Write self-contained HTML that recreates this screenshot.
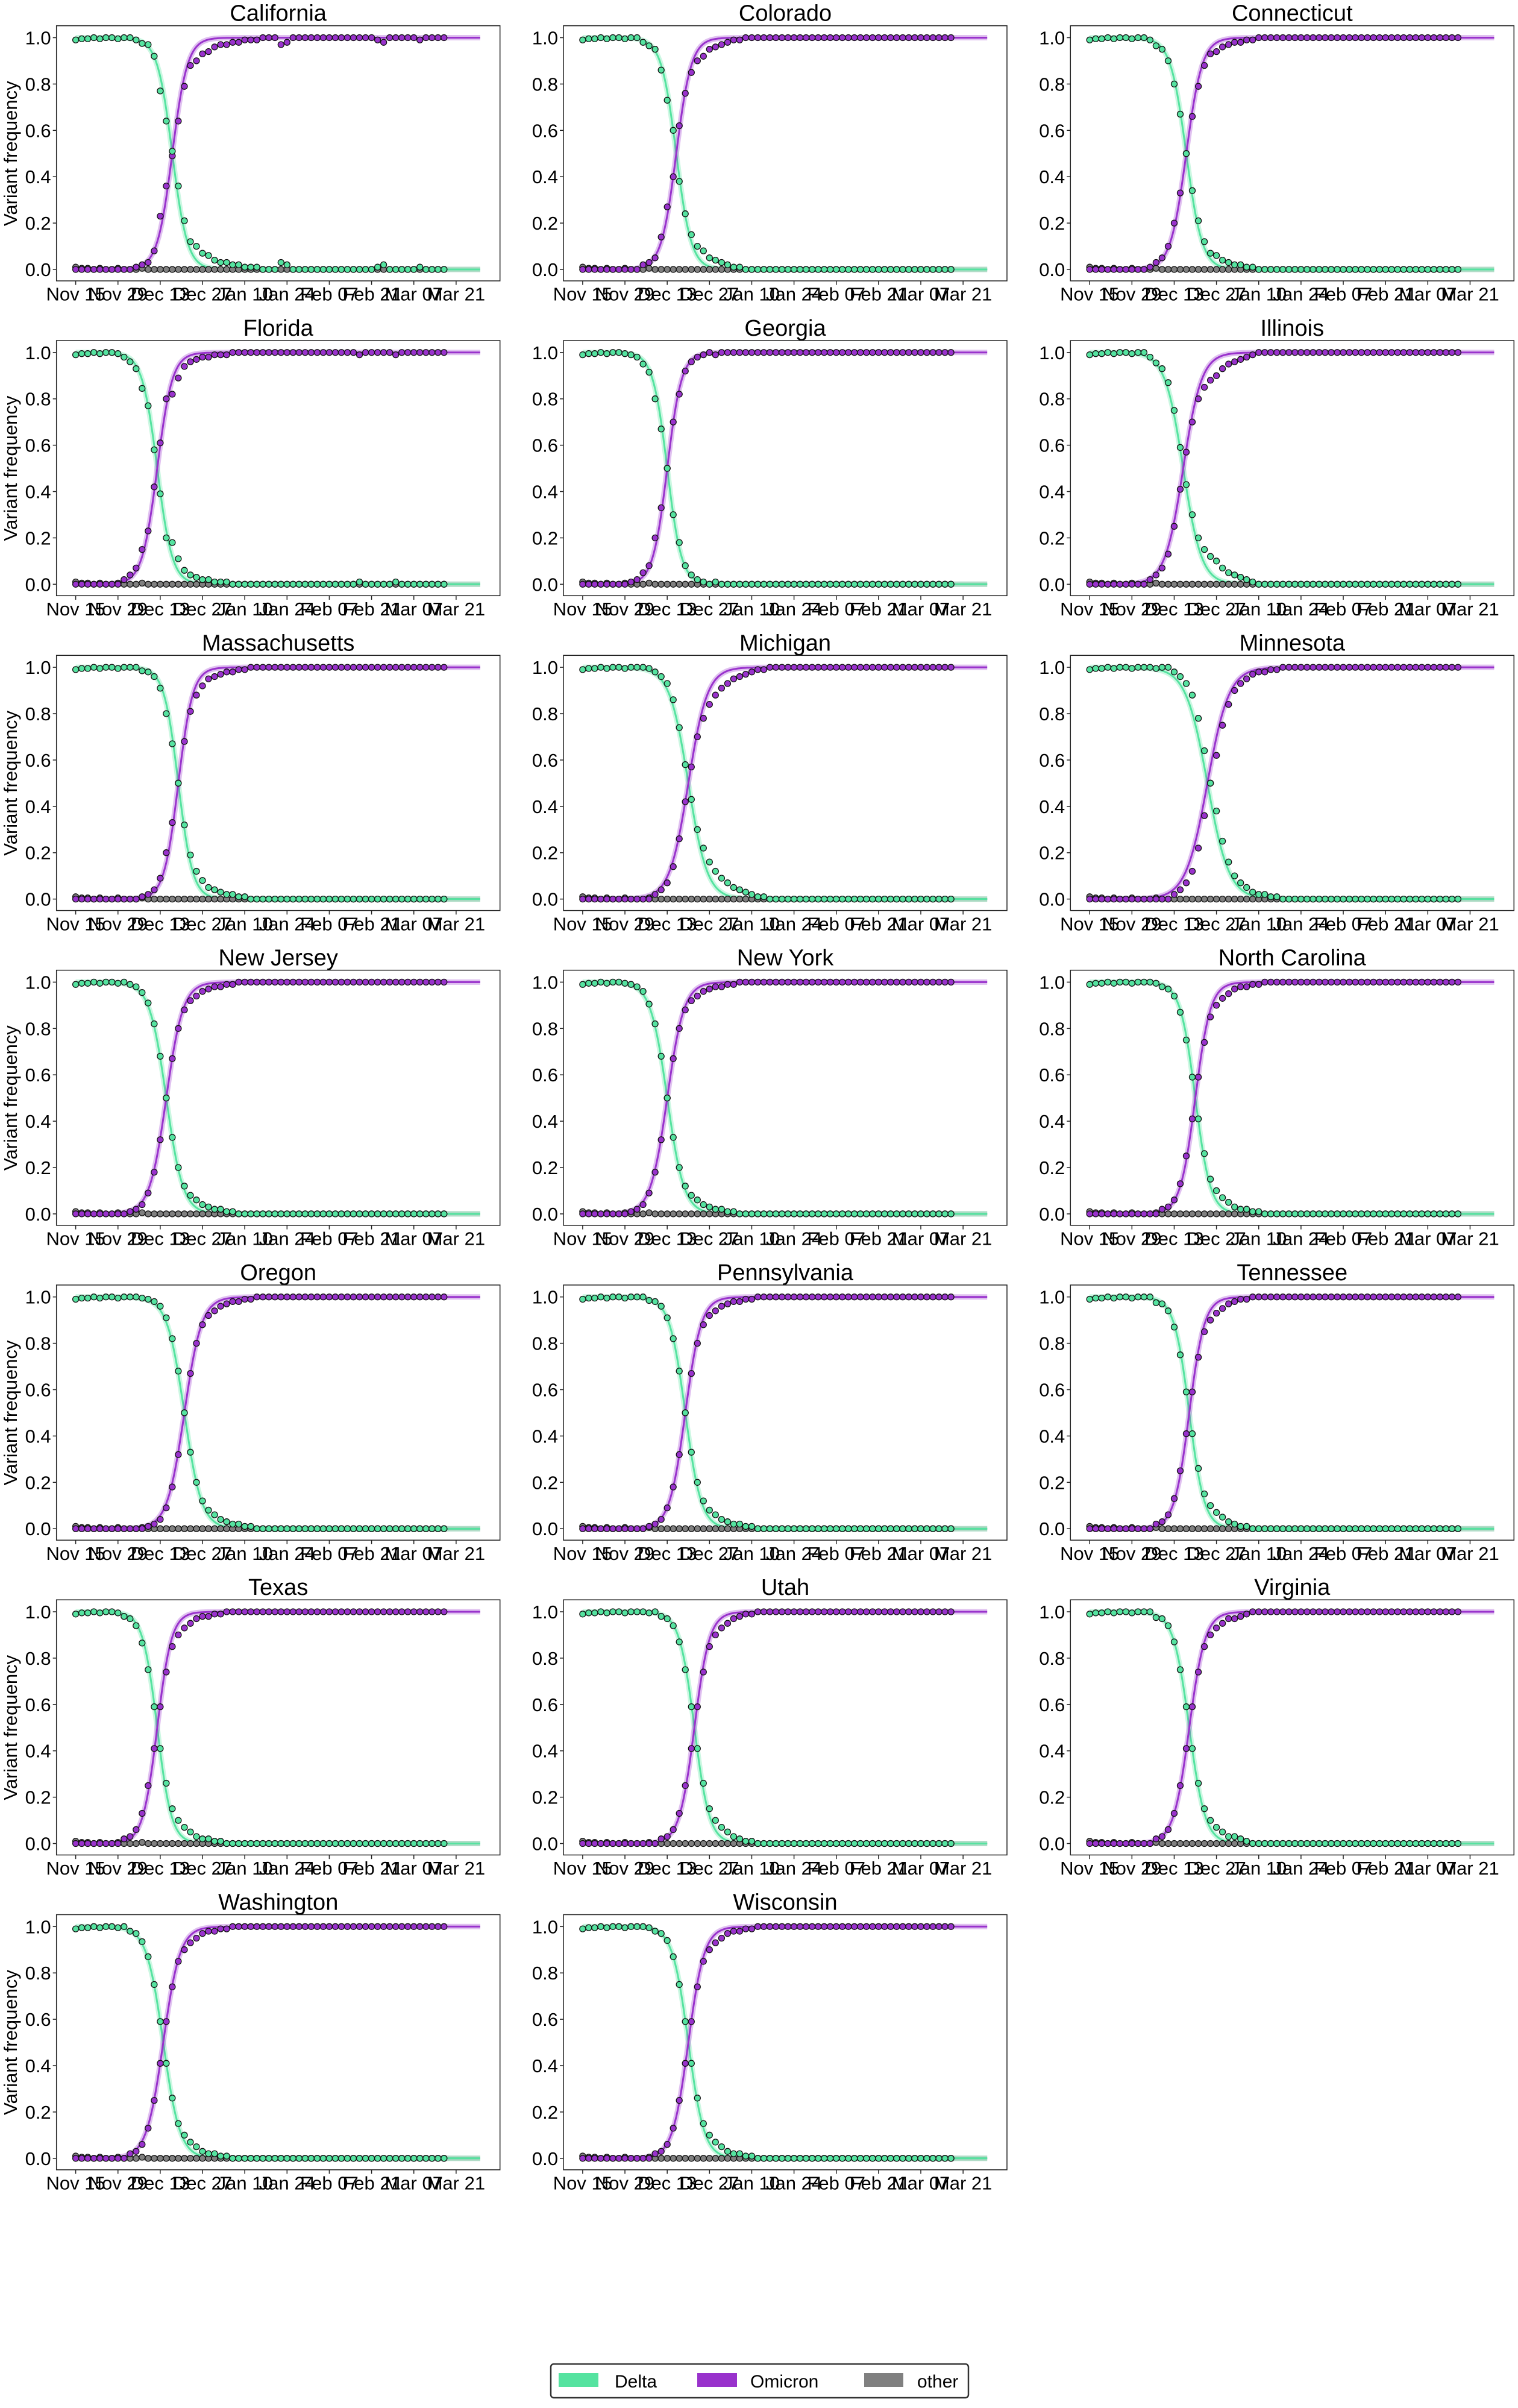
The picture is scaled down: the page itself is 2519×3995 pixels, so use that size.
<!DOCTYPE html>
<html><head><meta charset="utf-8">
<style>
html,body{margin:0;padding:0;background:#fff;}
svg{display:block;font-family:"Liberation Sans",sans-serif;}
</style></head>
<body>
<svg id="chart" width="2519" height="3995" viewBox="0 0 2519 3995" xmlns="http://www.w3.org/2000/svg">
<g id="panels"></g>
<g>
<rect x="914" y="3922" width="693" height="56" rx="5" fill="#fff" stroke="#333" stroke-width="2.5"/>
<g><rect x="927" y="3937" width="66" height="23" fill="#55e3a0"/><text x="1020" y="3961" font-size="30">Delta</text></g>
<g><rect x="1157" y="3937" width="66" height="23" fill="#9932cc"/><text x="1245" y="3961" font-size="30">Omicron</text></g>
<g><rect x="1434" y="3937" width="65" height="23" fill="#808080"/><text x="1522" y="3961" font-size="30">other</text></g>
</g>
</svg>
<script>
const states = ["California","Colorado","Connecticut","Florida","Georgia","Illinois","Massachusetts","Michigan","Minnesota","New Jersey","New York","North Carolina","Oregon","Pennsylvania","Tennessee","Texas","Utah","Virginia","Washington","Wisconsin"];
const tickLabels = ["Nov 15","Nov 29","Dec 13","Dec 27","Jan 10","Jan 24","Feb 07","Feb 21","Mar 07","Mar 21"];
const tickDays = [0,14,28,42,56,70,84,98,112,126];
const yTicks = [0,0.2,0.4,0.6,0.8,1.0];
const midDay = [32,31,32,27,28,31,34,35,39,30,28,35,36,34,33,27,37,33,29,35];
const rate = [0.4,0.4,0.38,0.4,0.42,0.33,0.42,0.32,0.28,0.36,0.36,0.4,0.35,0.38,0.4,0.42,0.4,0.38,0.36,0.38];
// omicron observed frequency, every 2 days from Nov 15
const omicronCA = [0,0,0,0,0,0,0,0,0,0,0.01,0.02,0.03,0.08,0.23,0.36,0.49,0.64,0.79,0.88,0.9,0.93,0.94,0.96,0.97,0.97,0.98,0.98,0.99,0.99,0.99,1,1,1,0.97,0.98,1,1,1,1,1,1,1,1,1,1,1,1,1,1,0.99,0.98,1,1,1,1,1,0.99,1,1,1,1];
const omicronCO = [0,0,0,0,0,0,0,0,0,0,0.02,0.03,0.05,0.14,0.27,0.4,0.62,0.76,0.85,0.9,0.92,0.95,0.96,0.97,0.98,0.99,0.99,1,1,1,1,1,1,1,1,1,1,1,1,1,1,1,1,1,1,1,1,1,1,1,1,1,1,1,1,1,1,1,1,1,1,1];
const omicronCT = [0,0,0,0,0,0,0,0,0,0,0.01,0.03,0.05,0.1,0.2,0.33,0.5,0.66,0.79,0.88,0.93,0.94,0.96,0.97,0.98,0.98,0.99,0.99,1,1,1,1,1,1,1,1,1,1,1,1,1,1,1,1,1,1,1,1,1,1,1,1,1,1,1,1,1,1,1,1,1,1];
const omicronFL = [0,0,0,0,0,0,0,0,0.02,0.04,0.07,0.15,0.23,0.42,0.61,0.8,0.82,0.89,0.94,0.96,0.97,0.98,0.98,0.99,0.99,0.99,1,1,1,1,1,1,1,1,1,1,1,1,1,1,1,1,1,1,1,1,1,0.99,1,1,1,1,1,0.99,1,1,1,1,1,1,1,1];
const omicronGA = [0,0,0,0,0,0,0,0,0.01,0.02,0.05,0.08,0.2,0.33,0.5,0.7,0.82,0.92,0.96,0.98,0.99,1,0.99,1,1,1,1,1,1,1,1,1,1,1,1,1,1,1,1,1,1,1,1,1,1,1,1,1,1,1,1,1,1,1,1,1,1,1,1,1,1,1];
const omicronIL = [0,0,0,0,0,0,0,0,0,0,0.02,0.04,0.07,0.13,0.25,0.41,0.57,0.7,0.8,0.85,0.88,0.9,0.93,0.95,0.96,0.97,0.98,0.99,1,1,1,1,1,1,1,1,1,1,1,1,1,1,1,1,1,1,1,1,1,1,1,1,1,1,1,1,1,1,1,1,1,1];
const omicronMA = [0,0,0,0,0,0,0,0,0,0,0,0.01,0.02,0.04,0.09,0.2,0.33,0.5,0.68,0.81,0.88,0.92,0.95,0.96,0.97,0.98,0.98,0.99,0.99,1,1,1,1,1,1,1,1,1,1,1,1,1,1,1,1,1,1,1,1,1,1,1,1,1,1,1,1,1,1,1,1,1];
const omicronMI = [0,0,0,0,0,0,0,0,0,0,0,0,0.02,0.04,0.07,0.14,0.26,0.42,0.57,0.7,0.78,0.84,0.88,0.91,0.93,0.95,0.96,0.97,0.98,0.99,0.99,1,1,1,1,1,1,1,1,1,1,1,1,1,1,1,1,1,1,1,1,1,1,1,1,1,1,1,1,1,1,1];
const omicronMN = [0,0,0,0,0,0,0,0,0,0,0,0,0,0,0.02,0.04,0.07,0.12,0.22,0.36,0.5,0.62,0.75,0.84,0.9,0.93,0.95,0.97,0.98,0.98,0.99,0.99,1,1,1,1,1,1,1,1,1,1,1,1,1,1,1,1,1,1,1,1,1,1,1,1,1,1,1,1,1,1];
const omicronNJ = [0,0,0,0,0,0,0,0,0,0.01,0.02,0.04,0.09,0.18,0.32,0.5,0.67,0.8,0.88,0.92,0.94,0.96,0.97,0.98,0.98,0.99,0.99,1,1,1,1,1,1,1,1,1,1,1,1,1,1,1,1,1,1,1,1,1,1,1,1,1,1,1,1,1,1,1,1,1,1,1];
const omicronNY = [0,0,0,0,0,0,0,0,0.01,0.02,0.04,0.09,0.18,0.32,0.5,0.67,0.8,0.88,0.92,0.94,0.96,0.97,0.98,0.98,0.99,0.99,1,1,1,1,1,1,1,1,1,1,1,1,1,1,1,1,1,1,1,1,1,1,1,1,1,1,1,1,1,1,1,1,1,1,1,1];
const omicronNC = [0,0,0,0,0,0,0,0,0,0,0,0,0.02,0.03,0.06,0.13,0.25,0.41,0.59,0.74,0.85,0.9,0.93,0.95,0.97,0.98,0.98,0.99,0.99,1,1,1,1,1,1,1,1,1,1,1,1,1,1,1,1,1,1,1,1,1,1,1,1,1,1,1,1,1,1,1,1,1];
const omicronOR = [0,0,0,0,0,0,0,0,0,0,0,0,0.01,0.02,0.04,0.09,0.18,0.32,0.5,0.67,0.8,0.88,0.92,0.94,0.96,0.97,0.98,0.98,0.99,0.99,1,1,1,1,1,1,1,1,1,1,1,1,1,1,1,1,1,1,1,1,1,1,1,1,1,1,1,1,1,1,1,1];
const omicronPA = [0,0,0,0,0,0,0,0,0,0,0,0.01,0.02,0.04,0.09,0.18,0.32,0.5,0.67,0.8,0.88,0.92,0.94,0.96,0.97,0.98,0.98,0.99,0.99,1,1,1,1,1,1,1,1,1,1,1,1,1,1,1,1,1,1,1,1,1,1,1,1,1,1,1,1,1,1,1,1,1];
const omicronTN = [0,0,0,0,0,0,0,0,0,0,0,0.02,0.03,0.06,0.13,0.25,0.41,0.59,0.74,0.85,0.9,0.93,0.95,0.97,0.98,0.99,0.99,1,1,1,1,1,1,1,1,1,1,1,1,1,1,1,1,1,1,1,1,1,1,1,1,1,1,1,1,1,1,1,1,1,1,1];
const omicronTX = [0,0,0,0,0,0,0,0,0.02,0.03,0.06,0.13,0.25,0.41,0.59,0.74,0.85,0.9,0.93,0.95,0.97,0.98,0.98,0.99,0.99,1,1,1,1,1,1,1,1,1,1,1,1,1,1,1,1,1,1,1,1,1,1,1,1,1,1,1,1,1,1,1,1,1,1,1,1,1];
const omicronUT = [0,0,0,0,0,0,0,0,0,0,0,0,0,0.02,0.03,0.06,0.13,0.25,0.41,0.59,0.74,0.85,0.9,0.93,0.95,0.97,0.98,0.99,0.99,1,1,1,1,1,1,1,1,1,1,1,1,1,1,1,1,1,1,1,1,1,1,1,1,1,1,1,1,1,1,1,1,1];
const omicronVA = [0,0,0,0,0,0,0,0,0,0,0,0.02,0.03,0.06,0.13,0.25,0.41,0.59,0.74,0.85,0.9,0.93,0.95,0.97,0.97,0.98,0.99,1,1,1,1,1,1,1,1,1,1,1,1,1,1,1,1,1,1,1,1,1,1,1,1,1,1,1,1,1,1,1,1,1,1,1];
const omicronWA = [0,0,0,0,0,0,0,0,0,0.02,0.03,0.06,0.13,0.25,0.41,0.59,0.74,0.85,0.9,0.93,0.95,0.97,0.98,0.98,0.99,0.99,1,1,1,1,1,1,1,1,1,1,1,1,1,1,1,1,1,1,1,1,1,1,1,1,1,1,1,1,1,1,1,1,1,1,1,1];
const omicronWI = [0,0,0,0,0,0,0,0,0,0,0,0,0.02,0.03,0.06,0.13,0.25,0.41,0.59,0.74,0.85,0.9,0.93,0.95,0.97,0.98,0.98,0.99,0.99,1,1,1,1,1,1,1,1,1,1,1,1,1,1,1,1,1,1,1,1,1,1,1,1,1,1,1,1,1,1,1,1,1];
const omicronSeries = [omicronCA,omicronCO,omicronCT,omicronFL,omicronGA,omicronIL,omicronMA,omicronMI,omicronMN,omicronNJ,omicronNY,omicronNC,omicronOR,omicronPA,omicronTN,omicronTX,omicronUT,omicronVA,omicronWA,omicronWI];
// small "other" fractions early in the period
const otherEarly = [0.01,0.005,0.005,0,0.005,0,0,0.005,0,0,0,0.005];
const pointStep = 2;
const curveEnd = 134;

const NS = "http://www.w3.org/2000/svg";
const root = document.getElementById("panels");
const COLORS = {delta:"#55e3a0", omicron:"#9932cc", other:"#808080"};
function mk(tag, attrs, parent){const e=document.createElementNS(NS,tag);for(const k in attrs)e.setAttribute(k,attrs[k]);if(parent)parent.appendChild(e);return e;}
function frameLeft(c){return 93.7 + c*841.3;}
function frameTop(r){return 42.7 + r*522.3;}
function xScale(c, day){return frameLeft(c) + 31.9 + day*5.01;}
function yScale(r, v){return frameTop(r) + 404.3 - v*384.5;}
function logistic(d, m, k){return 1/(1+Math.exp(-k*(d-m)));}

states.forEach((name, s) => {
  const r = Math.floor(s/3), c = s%3;
  const g = mk("g", {}, root);
  
  
  const L = frameLeft(c), T = frameTop(r);
  const t = mk("text", {x:L+368, y:T-8, "font-size":38, "text-anchor":"middle"}, g);
  t.textContent = name;
  
  
  const fr = mk("rect", {x:L, y:T, width:736, height:423.3, fill:"none", stroke:"#222", "stroke-width":1.5}, g);
  
  
  yTicks.forEach(v => {
    const y = yScale(r, v);
    mk("line", {x1:L-6, x2:L, y1:y, y2:y, stroke:"#222", "stroke-width":1.5}, g);
    const lt = mk("text", {x:L-9, y:y+11, "font-size":31, "text-anchor":"end"}, g);
    lt.textContent = v.toFixed(1);
    
    
  });
  tickDays.forEach((d, i) => {
    const x = xScale(c, d);
    mk("line", {x1:x, x2:x, y1:T+423.3, y2:T+430, stroke:"#222", "stroke-width":1.5}, g);
    const lt = mk("text", {x:x, y:T+456, "font-size":31, "text-anchor":"middle"}, g);
    lt.textContent = tickLabels[i];
    
    
  });
  if (c === 0) {
    const yl = mk("text", {x:0, y:0, "font-size":31, "text-anchor":"middle", transform:`translate(28,${T+212}) rotate(-90)`}, g);
    yl.textContent = "Variant frequency";
    
    
  }
  let pO = "", pD = "", pX = "";
  for (let d = 0; d <= curveEnd; d += 0.5) {
    const o = logistic(d, midDay[s], rate[s]);
    pO += (d?"L":"M") + xScale(c,d).toFixed(1) + "," + yScale(r,o).toFixed(1);
    pD += (d?"L":"M") + xScale(c,d).toFixed(1) + "," + yScale(r,1-o).toFixed(1);
    pX += (d?"L":"M") + xScale(c,d).toFixed(1) + "," + yScale(r,0).toFixed(1);
  }
  [["other",pX],["delta",pD],["omicron",pO]].forEach(([k,p]) => {
    const band = mk("path", {d:p, fill:"none", stroke:COLORS[k], "stroke-width":9, opacity:0.3}, g);
    
    
    const ln = mk("path", {d:p, fill:"none", stroke:COLORS[k], "stroke-width":3}, g);
    
    
  });
  const om = omicronSeries[s];
  const pts = mk("g", {stroke:"#111", "stroke-width":1.3}, g);
  
  
  om.forEach((o, i) => {
    const d = i*pointStep;
    const ot = otherEarly[i] !== undefined ? otherEarly[i] : 0;
    const de = Math.max(0, 1 - o - ot);
    const x = xScale(c, d);
    [["other",ot],["omicron",o],["delta",de]].forEach(([k,v]) => {
      const ci = mk("circle", {cx:x.toFixed(1), cy:yScale(r,v).toFixed(1), r:5, fill:COLORS[k]}, pts);
      
      
    });
  });
});
</script>
</body></html>
